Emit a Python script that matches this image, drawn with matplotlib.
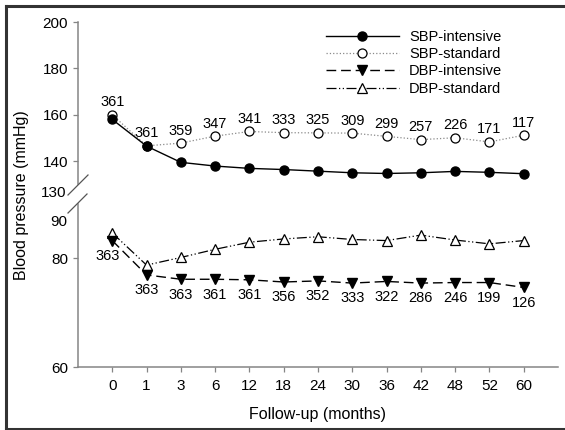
import matplotlib
matplotlib.use('Agg')
import matplotlib.pyplot as plt
from matplotlib.lines import Line2D

plt.rcParams['font.family'] = ['Liberation Sans', 'DejaVu Sans']

# dados
meses = ['0', '1', '3', '6', '12', '18', '24', '30', '36', '42', '48', '52', '60']
sbp_intensivo = [158.0, 146.5, 139.5, 137.9, 136.9, 136.4, 135.7, 135.0, 134.7, 135.0, 135.6, 135.2, 134.6]
sbp_padrao = [160.0, 146.6, 147.8, 150.8, 152.8, 152.3, 152.2, 152.1, 150.7, 149.3, 150.1, 148.3, 151.2]
dbp_intensivo = [83.2, 76.9, 76.1, 76.1, 76.0, 75.6, 75.8, 75.4, 75.7, 75.4, 75.5, 75.5, 74.6]
dbp_padrao = [84.6, 78.7, 80.1, 81.6, 82.9, 83.5, 83.9, 83.4, 83.2, 84.2, 83.3, 82.6, 83.2]
n_padrao = [361, 361, 359, 347, 341, 333, 325, 309, 299, 257, 226, 171, 117]
n_intensivo = [363, 363, 363, 361, 361, 356, 352, 333, 322, 286, 246, 199, 126]

x = list(range(len(meses)))
cinza = '#858585'

fig = plt.figure(figsize=(5.65, 4.30), dpi=100)
ax_top = fig.add_axes([0.138, 0.5712, 0.8496, 0.3776])
ax_bot = fig.add_axes([0.138, 0.1465, 0.8496, 0.3802])

for ax in (ax_top, ax_bot):
    ax.set_xlim(-1, 13)
    ax.spines['top'].set_visible(False)
    ax.spines['right'].set_visible(False)
    ax.spines['left'].set_color(cinza)
    ax.spines['bottom'].set_color(cinza)
    ax.spines['left'].set_linewidth(1.1)
    ax.spines['bottom'].set_linewidth(1.1)
    ax.tick_params(colors='black', labelsize=11, length=3.5, width=0.9, color=cinza)
    ax.patch.set_alpha(0)

ax_top.spines['bottom'].set_visible(False)
ax_top.set_ylim(130, 200)
ax_top.set_yticks([140, 160, 180, 200])
ax_top.set_xticks([])

ax_bot.set_ylim(60, 90)
ax_bot.set_yticks([60, 80])
ax_bot.set_xticks(x)
ax_bot.set_xticklabels(meses)
ax_bot.tick_params(axis='x', pad=5)

# linhas SBP
ax_top.plot(x, sbp_padrao, linestyle=':', color='#8a8a8a', lw=0.9, marker='o', ms=6.5,
            mfc='white', mec='black', mew=0.9, label='SBP-standard', zorder=3)
ax_top.plot(x, sbp_intensivo, linestyle='-', color='black', lw=1.0, marker='o', ms=6.5,
            mfc='black', mec='black', label='SBP-intensive', zorder=4)

# linhas DBP
ax_bot.plot(x, dbp_intensivo, linestyle=(0, (7, 3.5)), color='black', lw=1.0, marker='v', ms=6.5,
            mfc='black', mec='black', label='DBP-intensive', zorder=4)
ax_bot.plot(x, dbp_padrao, linestyle=(0, (8, 2, 1, 2, 1, 2)), color='black', lw=0.9, marker='^', ms=6.5,
            mfc='white', mec='black', mew=0.9, label='DBP-standard', zorder=3)

# numeros de pacientes
for xi, yi, n in zip(x, sbp_padrao, n_padrao):
    ax_top.annotate(str(n), (xi, yi), xytext=(0, 9), textcoords='offset points',
                    ha='center', va='center', fontsize=10.5)
for xi, yi, n in zip(x, dbp_intensivo, n_intensivo):
    dx = -3 if xi == 0 else 0
    ax_bot.annotate(str(n), (xi, yi), xytext=(dx, -11), textcoords='offset points',
                    ha='center', va='center', fontsize=10.5)

# rotulos da quebra
ax_top.annotate('130', (0, 130), xycoords=('axes fraction', 'data'), xytext=(-8, -6),
                textcoords='offset points', ha='right', va='center', fontsize=11)
ax_bot.annotate('90', (0, 90), xycoords=('axes fraction', 'data'), xytext=(-8, -13),
                textcoords='offset points', ha='right', va='center', fontsize=11)

# marcas de quebra
fig.add_artist(Line2D([68 / 565, 88 / 565], [1 - 195 / 430, 1 - 175 / 430], color='#555555', lw=0.9))
fig.add_artist(Line2D([68 / 565, 87 / 565], [1 - 213 / 430, 1 - 194 / 430], color='#555555', lw=0.9))

ax_bot.set_xlabel('Follow-up (months)', fontsize=11.5, labelpad=10)
fig.text(22 / 565, 1 - 195 / 430, 'Blood pressure (mmHg)', rotation=90, ha='center', va='center', fontsize=11.5)

# legenda
handles = ax_top.get_lines()[::-1] + ax_bot.get_lines()
labels = [h.get_label() for h in handles]
fig.legend(handles, labels, loc='upper left', bbox_to_anchor=(326 / 565, 1 - 30 / 430),
           frameon=False, fontsize=10.5, handlelength=5.0, handletextpad=0.7,
           labelspacing=0.22, borderpad=0, borderaxespad=0)

# moldura
fig.add_artist(Line2D([6 / 565, 6 / 565], [1 - 429 / 430, 1 - 6 / 430], color='#333333', lw=2.2))
fig.add_artist(Line2D([6 / 565, 1.0], [1 - 6 / 430, 1 - 6 / 430], color='#333333', lw=2.2))
fig.add_artist(Line2D([6 / 565, 1.0], [1 - 429 / 430, 1 - 429 / 430], color='#333333', lw=2.2))

fig.savefig('out.png', dpi=100)
